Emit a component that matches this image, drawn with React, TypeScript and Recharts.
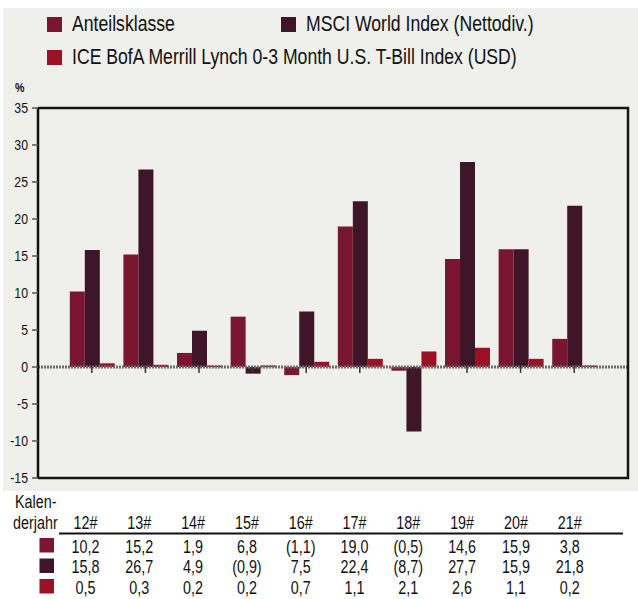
import React from 'react';
import { BarChart, Bar, XAxis, YAxis, ReferenceLine } from 'recharts';

const years = ['12#', '13#', '14#', '15#', '16#', '17#', '18#', '19#', '20#', '21#'];
const anteil = [10.2, 15.2, 1.9, 6.8, -1.1, 19.0, -0.5, 14.6, 15.9, 3.8];
const msci = [15.8, 26.7, 4.9, -0.9, 7.5, 22.4, -8.7, 27.7, 15.9, 21.8];
const ice = [0.5, 0.3, 0.2, 0.2, 0.7, 1.1, 2.1, 2.6, 1.1, 0.2];
const seriesNames = [
  'Anteilsklasse',
  'MSCI World Index (Nettodiv.)',
  'ICE BofA Merrill Lynch 0-3 Month U.S. T-Bill Index (USD)',
];
const seriesKeys = ['a', 'm', 'i'];
const seriesColors = ['#7b1632', '#3f1629', '#9b1226'];
const yTicks = [-15, -10, -5, 0, 5, 10, 15, 20, 25, 30, 35];
const yDomain: [number, number] = [-15, 35];
const seriesValues = [anteil, msci, ice];

const data = years.map((year, idx) => ({
  year,
  a: anteil[idx],
  m: msci[idx],
  i: ice[idx],
}));

const fmt = (v: number) => {
  const s = Math.abs(v).toFixed(1).replace('.', ',');
  return v < 0 ? `(${s})` : s;
};

const FONT = '"Liberation Sans", Arial, sans-serif';
const SX = 0.82;

const CHART_W = 638;
const CHART_H = 491;
const MARGIN = { top: 108, right: 10, bottom: 13, left: 0 };
const YAXIS_W = 38;
const plotLeft = MARGIN.left + YAXIS_W;
const plotRight = CHART_W - MARGIN.right;
const plotTop = MARGIN.top;
const plotBottom = CHART_H - MARGIN.bottom;

type NTProps = {
  x: number;
  y: number;
  size: number;
  anchor?: 'start' | 'middle' | 'end';
  weight?: string;
  dy?: string;
  children: React.ReactNode;
};

const NText = ({ x, y, size, anchor = 'start', weight = 'normal', dy, children }: NTProps) => (
  <text
    transform={`translate(${x},${y}) scale(${SX},1)`}
    textAnchor={anchor}
    fontFamily={FONT}
    fontSize={size}
    fontWeight={weight}
    fill="#111"
    dy={dy}
  >
    {children}
  </text>
);

const YTick = (props: any) => {
  const { x, y, payload } = props;
  return (
    <NText x={x} y={y} size={15} anchor="end" dy="0.355em">
      {payload.value}
    </NText>
  );
};

const legendPos = [
  { sx: 47, sy: 17, tx: 72, ty: 31 },
  { sx: 281, sy: 17, tx: 306, ty: 31 },
  { sx: 47, sy: 50, tx: 72, ty: 64 },
];

const colX = (i: number) => 85.5 + 53.8 * i;
const rowBase = [552.5, 573, 593.5];

export default function App() {
  return (
    <div style={{ position: 'absolute', left: 0, top: 0, width: 638, height: 599, background: '#ffffff', overflow: 'hidden' }}>
      <div style={{ position: 'absolute', left: 3, top: 8, width: 635, height: 483, background: '#efefeb' }} />
      <div style={{ position: 'absolute', left: 0, top: 0 }}>
        <BarChart
          width={CHART_W}
          height={CHART_H}
          data={data}
          margin={MARGIN}
          barGap={0}
          barCategoryGap="9%"
        >
          <XAxis dataKey="year" hide padding={{ left: 27, right: 27 }} />
          <YAxis
            width={YAXIS_W}
            domain={yDomain}
            ticks={yTicks}
            interval={0}
            allowDataOverflow
            tickSize={6}
            tickMargin={4}
            tickLine={{ stroke: '#555', strokeWidth: 1.5 }}
            axisLine={{ stroke: '#111', strokeWidth: 2.5 }}
            tick={<YTick />}
          />
          <ReferenceLine y={0} stroke="#6c6c6c" strokeWidth={3} strokeDasharray="2 1" />
          {seriesKeys.map((k, idx) => (
            <Bar key={k} dataKey={k} fill={seriesColors[idx]} isAnimationActive={false} />
          ))}
          {years.map((yr) => (
            <ReferenceLine
              key={'t' + yr}
              segment={[
                { x: yr, y: 0 },
                { x: yr, y: -0.8 },
              ]}
              stroke="#333"
              strokeWidth={1.5}
            />
          ))}
        </BarChart>
      </div>
      <svg width={638} height={599} style={{ position: 'absolute', left: 0, top: 0, pointerEvents: 'none' }}>
        <polyline
          points={`${plotLeft},${plotTop} ${plotRight},${plotTop} ${plotRight},${plotBottom} ${plotLeft},${plotBottom}`}
          fill="none"
          stroke="#151515"
          strokeWidth={2.5}
        />
        {seriesNames.map((name, idx) => (
          <g key={name}>
            <rect x={legendPos[idx].sx} y={legendPos[idx].sy} width={15} height={15} fill={seriesColors[idx]} />
            <NText x={legendPos[idx].tx} y={legendPos[idx].ty} size={21.5}>
              {name}
            </NText>
          </g>
        ))}
        <NText x={15} y={92} size={13} weight="bold">%</NText>
        <NText x={15} y={508} size={17.5}>Kalen-</NText>
        <NText x={13} y={528.5} size={17.5}>derjahr</NText>
        {years.map((yr, i) => (
          <NText key={'h' + yr} x={colX(i)} y={528.5} size={17.5} anchor="middle">
            {yr}
          </NText>
        ))}
        <line x1={59} x2={623} y1={533.5} y2={533.5} stroke="#111" strokeWidth={2} />
        {seriesValues.map((vals, r) => (
          <g key={'r' + r}>
            <rect x={39.5} y={rowBase[r] - 14.5} width={14.5} height={14.5} fill={seriesColors[r]} />
            {vals.map((v, i) => (
              <NText key={i} x={colX(i)} y={rowBase[r]} size={17.5} anchor="middle">
                {fmt(v)}
              </NText>
            ))}
          </g>
        ))}
      </svg>
    </div>
  );
}
